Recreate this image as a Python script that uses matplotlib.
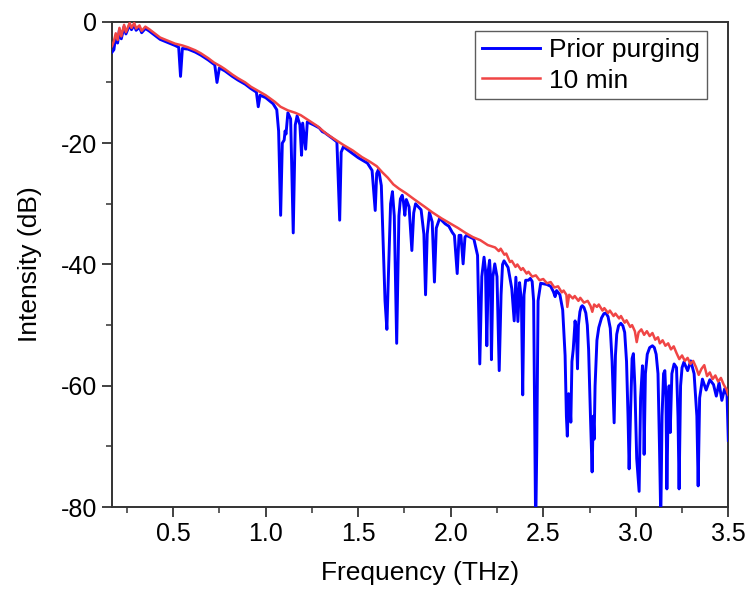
"""
THz transmission spectrum before purging vs. after 10 min of purging.
Values read off the reference picture (dB vs THz).
"""

import numpy as np
import matplotlib.pyplot as plt
from matplotlib.ticker import MultipleLocator

plt.rcParams["font.family"] = ["Liberation Sans", "DejaVu Sans"]

# ----------------------------------------------------------------- data
# "Prior purging" (blue): baseline plus the water-vapour absorption dips
prior_f = [
    0.17, 0.18, 0.19, 0.20, 0.21, 0.22, 0.235, 0.245, 0.265, 0.275, 0.29, 0.30,
    0.318, 0.33, 0.35, 0.37, 0.40, 0.43, 0.47, 0.51, 0.53, 0.54, 0.55, 0.58,
    0.62, 0.65, 0.69, 0.725, 0.737, 0.75, 0.78, 0.82, 0.85, 0.89, 0.92, 0.95,
    0.96, 0.97, 1.00, 1.04, 1.06, 1.07, 1.081, 1.09, 1.10, 1.105, 1.11, 1.12,
    1.135, 1.149, 1.16, 1.17, 1.185, 1.194, 1.20, 1.216, 1.225, 1.26, 1.29,
    1.306, 1.32, 1.36, 1.385, 1.40, 1.408, 1.42, 1.46, 1.50, 1.55, 1.575,
    1.592, 1.60, 1.61, 1.625, 1.645, 1.655, 1.665, 1.675, 1.685, 1.695, 1.708,
    1.72, 1.728, 1.738, 1.745, 1.752, 1.76, 1.775, 1.79, 1.80, 1.81, 1.84,
    1.855, 1.864, 1.873, 1.885, 1.90, 1.912, 1.922, 1.94, 1.97, 1.99, 2.008,
    2.02, 2.035, 2.045, 2.055, 2.067, 2.077, 2.085, 2.125, 2.145, 2.157, 2.168,
    2.18, 2.188, 2.195, 2.203, 2.21, 2.215, 2.22, 2.228, 2.238, 2.25, 2.262,
    2.272, 2.28, 2.288, 2.31, 2.33, 2.343, 2.352, 2.363, 2.372, 2.382, 2.389,
    2.396, 2.405, 2.42, 2.43, 2.44, 2.448, 2.455, 2.459, 2.465, 2.472, 2.486,
    2.52, 2.54, 2.555, 2.564, 2.572, 2.59, 2.605, 2.618, 2.625, 2.63, 2.637,
    2.643, 2.649, 2.655, 2.662, 2.672, 2.68, 2.685, 2.69, 2.698, 2.705, 2.711,
    2.72, 2.73, 2.738, 2.745, 2.755, 2.764, 2.77, 2.775, 2.78, 2.79, 2.80,
    2.815, 2.828, 2.838, 2.85, 2.862, 2.872, 2.883, 2.89, 2.897, 2.907, 2.919,
    2.93, 2.94, 2.95, 2.958, 2.964, 2.972, 2.98, 2.987, 2.995, 3.005, 3.018,
    3.026, 3.036, 3.041, 3.045, 3.052, 3.062, 3.075, 3.09, 3.10, 3.11, 3.12,
    3.128, 3.135, 3.142, 3.15, 3.157, 3.163, 3.168, 3.175, 3.18, 3.186, 3.195,
    3.207, 3.22, 3.228, 3.234, 3.242, 3.25, 3.26, 3.28, 3.297, 3.315, 3.33,
    3.337, 3.345, 3.36, 3.38, 3.40, 3.42, 3.435, 3.45, 3.465, 3.48, 3.493,
    3.50,
]
prior_db = [
    -5.0, -4.6, -2.3, -3.5, -1.3, -2.8, -0.8, -2.0, -0.5, -1.3, -0.5, -1.4,
    -0.9, -1.8, -1.1, -1.5, -2.2, -2.9, -3.4, -3.9, -4.2, -9.0, -4.4, -4.5,
    -5.0, -5.5, -6.3, -7.1, -10.0, -7.6, -8.1, -9.0, -9.6, -10.3, -11.0, -11.6,
    -14.0, -12.1, -12.5, -13.5, -14.5, -18.0, -31.9, -20.0, -19.5, -18.0, -18.5, -15.0,
    -16.0, -34.8, -17.0, -15.5, -17.0, -22.0, -16.7, -21.0, -16.5, -17.0, -17.5,
    -18.1, -18.3, -19.2, -19.8, -32.7, -21.5, -20.6, -21.5, -22.4, -23.3, -24.5,
    -31.1, -25.0, -24.3, -27.0, -46.0, -50.7, -40.0, -30.0, -28.0, -32.0, -53.0,
    -32.0, -29.2, -28.6, -29.8, -31.9, -29.3, -30.5, -37.7, -31.5, -30.0, -31.0,
    -35.0, -45.0, -35.0, -31.4, -33.0, -42.9, -34.0, -32.4, -33.3, -33.7, -34.7,
    -35.2, -41.5, -35.2, -35.2, -39.9, -35.5, -35.2, -35.8, -38.5, -56.4, -42.0,
    -38.8, -41.0, -53.4, -41.0, -39.3, -42.0, -55.7, -42.0, -39.9, -42.0, -57.5,
    -45.0, -40.0, -39.4, -40.5, -44.0, -49.3, -42.1, -49.4, -43.0, -46.0, -61.5,
    -45.0, -42.6, -42.6, -42.3, -42.8, -46.0, -70.0, -84.0, -70.0, -46.0, -43.1,
    -43.3, -43.6, -44.5, -45.3, -44.3, -45.0, -47.5, -55.0, -65.0, -68.3, -61.3,
    -62.0, -66.0, -56.0, -54.0, -49.3, -52.0, -57.2, -50.0, -47.8, -47.0, -46.8,
    -47.1, -48.0, -50.0, -54.0, -65.0, -74.2, -65.0, -68.8, -60.0, -52.5, -50.4,
    -48.8, -48.1, -48.0, -48.6, -50.5, -56.0, -66.1, -55.0, -51.5, -50.1, -49.7,
    -50.1, -51.2, -56.0, -65.0, -73.7, -64.0, -55.5, -54.7, -60.0, -72.0, -77.4,
    -62.0, -56.7, -60.0, -71.3, -58.0, -54.8, -53.7, -53.4, -53.7, -54.8, -58.0,
    -70.0, -82.0, -65.0, -58.0, -57.5, -62.0, -77.0, -63.0, -60.0, -67.7, -58.0,
    -56.4, -57.0, -65.0, -77.0, -60.0, -57.0, -56.1, -57.5, -55.9, -58.0, -65.0,
    -76.5, -62.0, -58.9, -60.7, -59.0, -59.8, -61.7, -59.5, -62.4, -60.5, -61.5,
    -69.0,
]

# "10 min" (red): after purging, dips gone, only noise left
purged_f = [
    0.17, 0.18, 0.19, 0.20, 0.21, 0.22, 0.235, 0.245, 0.265, 0.275, 0.29, 0.30,
    0.318, 0.33, 0.35, 0.37, 0.40, 0.43, 0.47, 0.51, 0.55, 0.58, 0.62, 0.65,
    0.69, 0.72, 0.76, 0.78, 0.82, 0.85, 0.89, 0.92, 0.96, 1.00, 1.05, 1.08,
    1.12, 1.16, 1.19, 1.23, 1.28, 1.33, 1.38, 1.42, 1.47, 1.52, 1.56, 1.60,
    1.63, 1.66, 1.69, 1.72, 1.76, 1.80, 1.86, 1.90, 1.95, 2.00, 2.04, 2.08,
    2.12, 2.16, 2.20, 2.24, 2.26, 2.27, 2.29, 2.30, 2.32, 2.33, 2.35, 2.36,
    2.38, 2.39, 2.41, 2.42, 2.44, 2.46, 2.48, 2.50, 2.52, 2.54, 2.56, 2.58,
    2.60, 2.61, 2.625, 2.63, 2.64, 2.66, 2.67, 2.69, 2.70, 2.72, 2.74, 2.755,
    2.765, 2.775, 2.79, 2.80, 2.82, 2.83, 2.85, 2.86, 2.88, 2.89, 2.91, 2.92,
    2.94, 2.95, 2.97, 2.98, 2.995, 3.005, 3.015, 3.03, 3.045, 3.06, 3.075, 3.09,
    3.105, 3.12, 3.13, 3.145, 3.16, 3.175, 3.19, 3.205, 3.22, 3.235, 3.25, 3.265,
    3.28, 3.295, 3.31, 3.325, 3.34, 3.355, 3.37, 3.385, 3.40, 3.415, 3.43, 3.445,
    3.46, 3.475, 3.49, 3.50,
]
purged_db = [
    -4.0, -3.2, -1.9, -3.0, -1.0, -2.4, -0.5, -1.7, -0.2, -1.0, -0.2, -1.1,
    -0.6, -1.5, -0.8, -1.2, -1.9, -2.6, -3.1, -3.6, -3.9, -4.2, -4.7, -5.2,
    -6.0, -6.7, -7.4, -7.8, -8.7, -9.3, -10.0, -10.7, -11.4, -12.1, -13.2, -14.0,
    -14.6, -15.0, -15.4, -16.2, -17.2, -18.5, -19.5, -20.3, -21.2, -22.3, -23.0, -23.8,
    -24.8, -25.7, -26.8, -27.5, -28.3, -29.2, -30.5, -31.4, -32.4, -33.3, -34.0, -34.8,
    -35.5, -36.0, -36.8, -37.2, -37.8, -37.4, -38.4, -38.2, -39.6, -39.4, -40.4, -40.0,
    -40.9, -40.6, -41.5, -41.2, -42.0, -41.8, -42.6, -42.4, -43.1, -42.9, -43.8, -43.6,
    -44.6, -44.3, -45.0, -47.0, -45.0, -45.6, -45.2, -46.0, -45.5, -46.3, -46.0, -46.8,
    -47.8, -46.6, -47.0, -46.6, -47.6, -47.2, -48.0, -47.6, -48.5, -48.1, -48.9, -48.5,
    -49.6, -49.2, -50.3, -50.0, -51.0, -52.8, -51.2, -50.7, -51.6, -51.0, -51.8, -51.3,
    -52.4, -52.0, -53.0, -52.5, -53.4, -53.0, -54.0, -53.5, -54.6, -55.6, -55.0, -55.9,
    -55.4, -56.4, -55.9, -56.9, -58.2, -57.2, -56.6, -58.4, -57.8, -58.9, -58.3, -59.3,
    -58.7, -59.8, -60.6, -61.5,
]

# ----------------------------------------------------------------- figure
fig = plt.figure(figsize=(7.47, 5.89), dpi=100)
ax = fig.add_axes([0.150, 0.139, 0.825, 0.824])

ax.plot(prior_f, prior_db, color="#0000FF", lw=2.1, label="Prior purging", zorder=3)
ax.plot(purged_f, purged_db, color="#F04545", lw=1.8, label="10 min", zorder=4)

ax.set_xlim(0.17, 3.5)
ax.set_ylim(-80, 0)
ax.xaxis.set_major_locator(MultipleLocator(0.5))
ax.xaxis.set_minor_locator(MultipleLocator(0.25))
ax.yaxis.set_major_locator(MultipleLocator(20))
ax.yaxis.set_minor_locator(MultipleLocator(10))
ax.xaxis.set_major_formatter(plt.FormatStrFormatter("%.1f"))
ax.yaxis.set_major_formatter(plt.FormatStrFormatter("%d"))

ax.tick_params(which="both", direction="out", top=False, right=False,
               labelsize=18, colors="#333333", labelcolor="black")
ax.tick_params(which="major", length=7, width=1.3)
ax.tick_params(which="minor", length=4, width=1.1)
for s in ax.spines.values():
    s.set_linewidth(1.4)
    s.set_color("#333333")

ax.set_xlabel("Frequency (THz)", fontsize=19, labelpad=11)
ax.set_ylabel("Intensity (dB)", fontsize=19, labelpad=14)

leg = ax.legend(loc="upper right", bbox_to_anchor=(0.965, 0.98), fontsize=19,
                frameon=True, fancybox=False, handlelength=2.2, handletextpad=0.35,
                labelspacing=0.25, borderpad=0.25, borderaxespad=0.0)
leg.get_frame().set_edgecolor("#333333")
leg.get_frame().set_linewidth(1.0)

fig.savefig("out.png", dpi=100)
print("wrote out.png")
